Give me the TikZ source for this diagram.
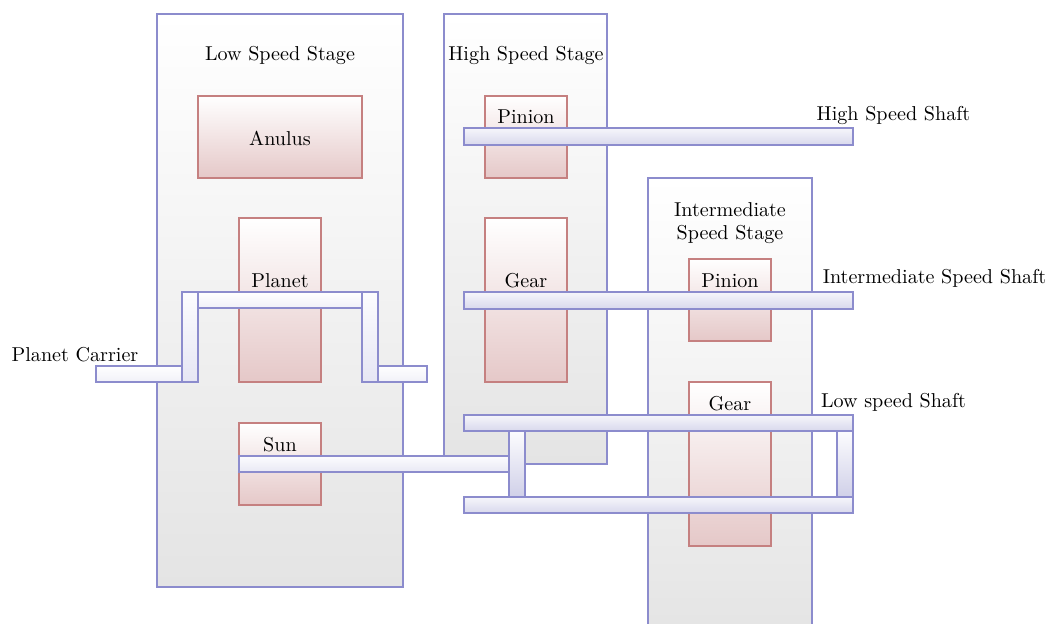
\documentclass[tikz,border=0pt]{standalone}
\definecolor{ln}{RGB}{140,140,205}
\definecolor{rd}{RGB}{197,128,128}
\definecolor{stagebot}{RGB}{228,228,228}
\definecolor{gearbot}{RGB}{229,200,200}
\definecolor{lighttop}{RGB}{252,252,254}
\definecolor{longtop}{RGB}{246,246,251}
\definecolor{longbot}{RGB}{216,216,236}
\definecolor{sunbot}{RGB}{232,232,244}
\definecolor{armbot}{RGB}{240,240,248}
\definecolor{cvbot}{RGB}{230,230,244}
\definecolor{barbot}{RGB}{208,208,232}
\newcommand{\bx}[6]{%
  \pgfmathsetmacro{\cxx}{(#3+#5)/2}\pgfmathsetmacro{\cyy}{(#4+#6)/2}%
  \pgfmathsetmacro{\ww}{(#5-#3)*0.5}\pgfmathsetmacro{\hh}{(#6-#4)*0.5}%
  \node[#2,minimum width=\ww pt,minimum height=\hh pt] (#1) at (\cxx,\cyy) {};}
\tikzset{
  plain/.style={line width=0.75pt,inner sep=0pt,outer sep=0pt},
  stagebox/.style={plain,draw=ln,top color=white,bottom color=stagebot},
  gearbox/.style={plain,draw=rd,top color=white,bottom color=gearbot},
  longshaft/.style={plain,draw=ln,top color=longtop,bottom color=longbot},
  sunshaftbox/.style={plain,draw=ln,top color=lighttop,bottom color=sunbot},
  armbox/.style={plain,draw=ln,top color=white,bottom color=armbot},
  cvbox/.style={plain,draw=ln,top color=lighttop,bottom color=cvbot},
  barbox/.style={plain,draw=ln,top color=lighttop,bottom color=barbot},
  lbl/.style={inner sep=0pt,align=center,font=\fontsize{10.05}{11.6}\selectfont,text=black}
}
\begin{document}
\begin{tikzpicture}[x=0.5pt,y=-0.5pt]
\clip (0,0) rectangle (1048,623);
% stages
\bx{low}{stagebox}{157}{14}{403}{587}
\bx{high}{stagebox}{444}{14}{607}{464}
\bx{inter}{stagebox}{648}{178}{812}{640}
\node[lbl] (lowt) at (280,55.5) {Low Speed Stage};
\node[lbl] (hight) at (526,55.5) {High Speed Stage};
\node[lbl] (intert) at (730,223) {Intermediate\\Speed Stage};
% gears
\bx{anulus}{gearbox}{198}{96}{362}{178}
\bx{planet}{gearbox}{239}{218}{321}{382}
\bx{sun}{gearbox}{239}{423}{321}{505}
\bx{hpin}{gearbox}{485}{96}{567}{178}
\bx{hgear}{gearbox}{485}{218}{567}{382}
\bx{ipin}{gearbox}{689}{259}{771}{341}
\bx{igear}{gearbox}{689}{382}{771}{546}
\node[lbl] (anulust) at (280,138) {Anulus};
\node[lbl] (planett) at (280,281) {Planet};
\node[lbl] (sunt) at (280,445) {Sun};
\node[lbl] (hpint) at (526,117) {Pinion};
\node[lbl] (hgeart) at (526,281) {Gear};
\node[lbl] (ipint) at (730,281) {Pinion};
\node[lbl] (igeart) at (730,404) {Gear};
% carrier
\bx{carm1}{armbox}{96}{366}{182}{382}
\bx{carm2}{armbox}{378}{366}{427}{382}
\bx{ctop}{armbox}{198}{292}{362}{308}
\bx{cv1}{cvbox}{182}{292}{198}{382}
\bx{cv2}{cvbox}{362}{292}{378}{382}
% shafts
\bx{sunshaft}{sunshaftbox}{239}{456}{509}{472}
\bx{v1}{barbox}{509}{431}{525}{497}
\bx{v2}{barbox}{837}{431}{853}{497}
\bx{shs}{longshaft}{464}{128}{853}{145}
\bx{sis}{longshaft}{464}{292}{853}{309}
\bx{sls}{longshaft}{464}{415}{853}{431}
\bx{sbt}{longshaft}{464}{497}{853}{513}
% labels
\node[lbl] (hst) at (893.5,115) {High Speed Shaft};
\node[lbl] (ist) at (934.5,278.5) {Intermediate Speed Shaft};
\node[lbl] (lst) at (893.5,402.5) {Low speed Shaft};
\node[lbl] (pct) at (75,355) {Planet Carrier};
\end{tikzpicture}
\end{document}
